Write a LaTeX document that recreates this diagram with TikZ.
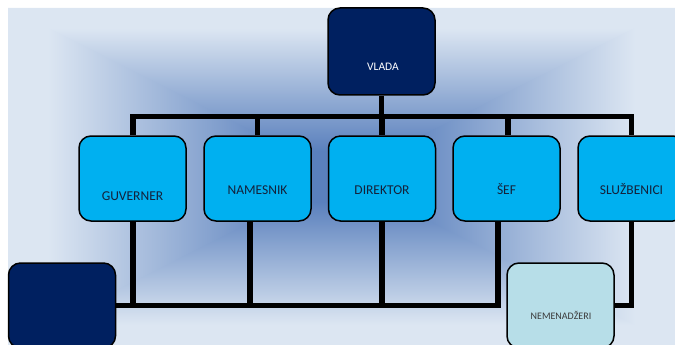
\documentclass[tikz,border=0pt]{standalone}
\usepackage{fontspec}
\setmainfont{Carlito}
\usetikzlibrary{calc}
\definecolor{navy}{HTML}{002060}
\definecolor{cyanbox}{HTML}{00B0F0}
\definecolor{paleteal}{HTML}{B7DEE8}
\definecolor{bgedge}{HTML}{DCE6F2}
\definecolor{bgcenter}{HTML}{5A80BD}
\definecolor{labeltext}{HTML}{14213A}
\definecolor{nemtext}{HTML}{3A3A3A}
\pgfdeclarehorizontalshading{edgetocenter}{100bp}{color(0bp)=(bgedge); color(31bp)=(bgedge); color(67.5bp)=(bgcenter); color(100bp)=(bgcenter)}
\pgfdeclarelayer{bg}
\pgfdeclarelayer{conn}
\pgfsetlayers{bg,conn,main}
\begin{document}
\begin{tikzpicture}[x=1pt,y=-1pt,
  orgbox/.style={draw=black,line width=1.5pt,rounded corners=12pt,
    minimum width=107pt,minimum height=85pt,inner sep=0pt},
  darkbox/.style={orgbox,fill=navy},
  bluebox/.style={orgbox,fill=cyanbox},
  palebox/.style={orgbox,fill=paleteal},
  wire/.style={draw=black,line width=5.5pt,line join=miter},
  lbl/.style={inner sep=0pt,anchor=base,text=labeltext,font=\fontsize{13.5}{15}\selectfont},
  toplbl/.style={inner sep=0pt,anchor=base,text=white,font=\fontsize{11.5}{13}\selectfont},
  nemlbl/.style={inner sep=0pt,anchor=base,text=nemtext,font=\fontsize{10}{12}\selectfont}]
\useasboundingbox (0,0) rectangle (675,345);
\clip (0,0) rectangle (675,345);

% boxes
\node[darkbox,minimum height=87pt] (vlada) at (381.5,51.5) {};
\node[bluebox] (guv) at (132.5,178.5) {};
\node[bluebox] (nam) at (257.5,178.5) {};
\node[bluebox] (dir) at (382,178.5) {};
\node[bluebox] (sef) at (506.5,178.5) {};
\node[bluebox] (slu) at (631.5,178.5) {};
\node[darkbox] (blank) at (62,305.5) {};
\node[palebox] (nem) at (560.5,305.5) {};

% labels
\node[toplbl] (vladat) at (383,70.3) {VLADA};
\node[lbl] (guvt) at (132.5,200) {GUVERNER};
\node[lbl] (namt) at (257.5,194.5) {NAMESNIK};
\node[lbl] (dirt) at (382,194.5) {DIREKTOR};
\node[lbl] (seft) at (506.5,194.5) {ŠEF};
\node[lbl] (slut) at (631.5,194.5) {SLUŽBENICI};
\node[nemlbl] (nemt) at (561,319) {NEMENADŽERI};

% background: rectangular path gradient
\begin{pgfonlayer}{bg}
  \fill[bgedge!50!bgcenter] (8,8) rectangle (675,345);
  \begin{scope}
    \clip (6,8) -- (677,8) -- (341.5,177.5) -- cycle;
    \shade[shading=edgetocenter,shading angle=-90] (8,8) rectangle (675,176.5);
  \end{scope}
  \begin{scope}
    \clip (6,345) -- (677,345) -- (341.5,175.5) -- cycle;
    \shade[shading=edgetocenter,shading angle=90] (8,176.5) rectangle (675,345);
  \end{scope}
  \begin{scope}
    \clip (8,8) -- (341.5,176.5) -- (8,345) -- cycle;
    \shade[shading=edgetocenter] (8,8) rectangle (341.5,345);
  \end{scope}
  \begin{scope}
    \clip (675,8) -- (341.5,176.5) -- (675,345) -- cycle;
    \shade[shading=edgetocenter,shading angle=180] (341.5,8) rectangle (675,345);
  \end{scope}
\end{pgfonlayer}

% connectors
\begin{pgfonlayer}{conn}
  \coordinate (hub) at ($(vlada.south)+(0,20.5)$);
  \coordinate (guvtop) at ($(guv.north)+(0.5,0)$);
  \coordinate (seftop) at ($(sef.north)+(1.5,0)$);
  \coordinate (namdrop) at ($(nam.south)+(-7.5,0)$);
  \coordinate (sefdrop) at ($(sef.south)+(-8.5,0)$);
  \draw[wire] (vlada.south) -- (hub);
  \draw[wire] (guvtop) -- (guvtop |- hub) -- (slu.north |- hub) -- (slu.north);
  \draw[wire] (nam.north) -- (nam.north |- hub);
  \draw[wire] (dir.north) -- (dir.north |- hub);
  \draw[wire] (seftop) -- (seftop |- hub);
  \draw[wire] (blank.east) -- (sefdrop |- blank.east) -- (sefdrop);
  \draw[wire] (guvtop |- guv.south) -- (guvtop |- blank.east);
  \draw[wire] (namdrop) -- (namdrop |- blank.east);
  \draw[wire] (dir.south) -- (dir.south |- blank.east);
  \draw[wire] (slu.south) -- (slu.south |- nem.east) -- (nem.east);
\end{pgfonlayer}
\end{tikzpicture}
\end{document}
